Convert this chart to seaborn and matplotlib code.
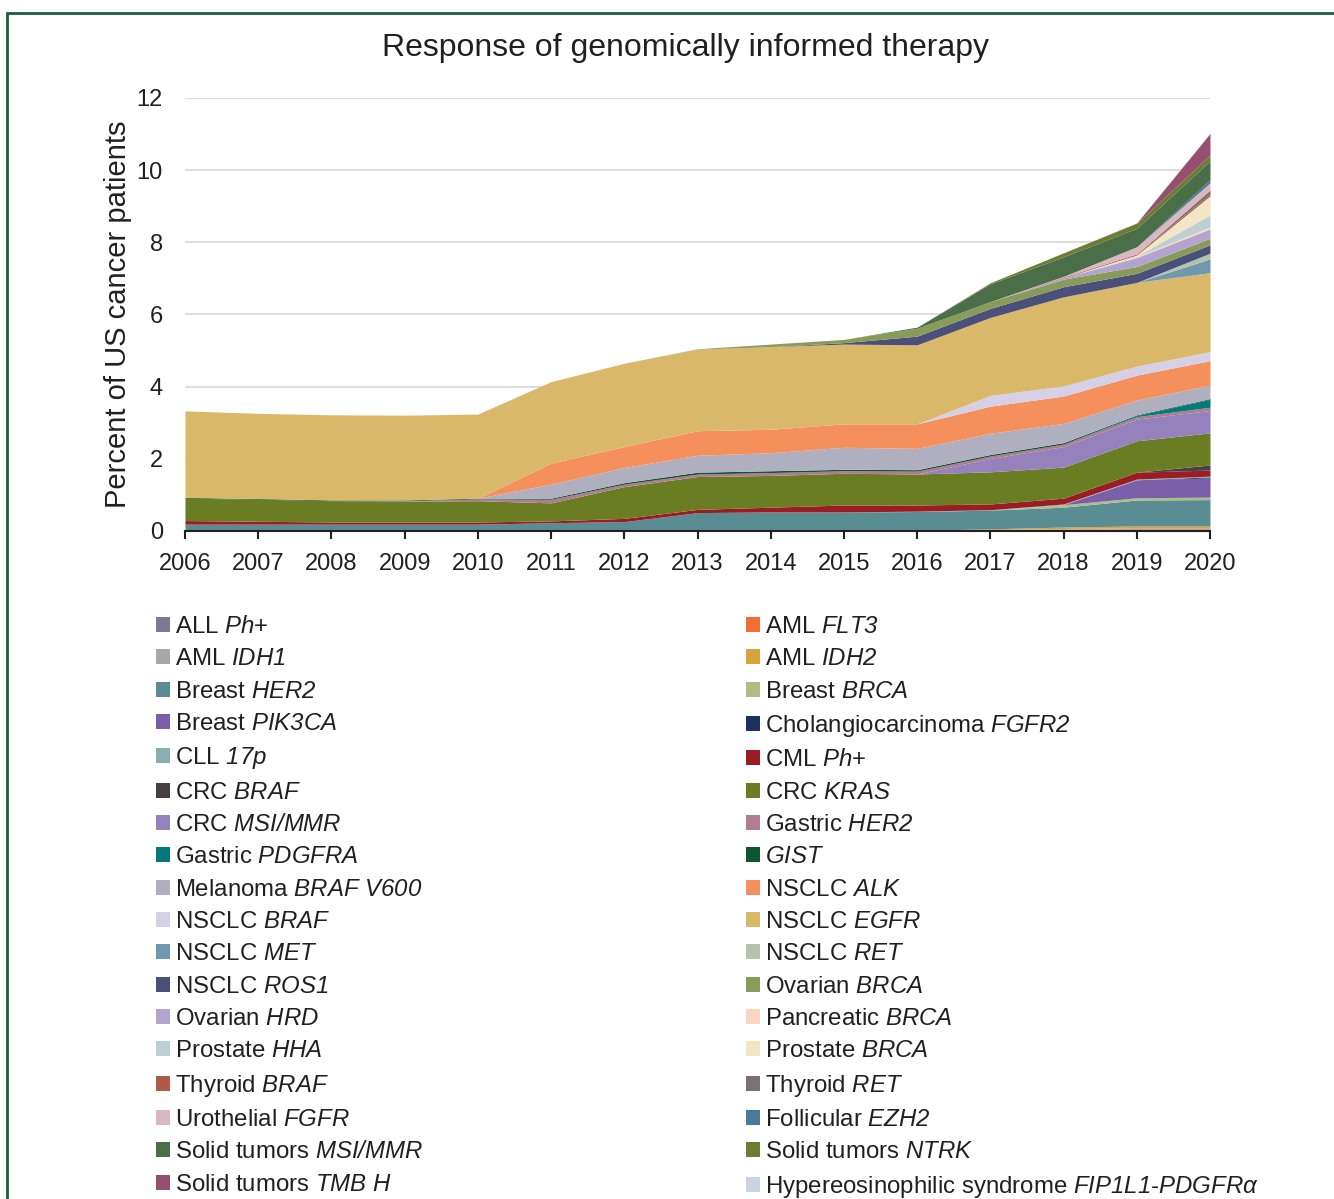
import matplotlib
matplotlib.use('Agg')
import matplotlib.pyplot as plt
import matplotlib.patches as mpatches
import seaborn as sns

years = [2006, 2007, 2008, 2009, 2010, 2011, 2012, 2013, 2014, 2015, 2016, 2017, 2018, 2019, 2020]

# percent of US cancer patients, stacked bottom -> top
all_ph        = [.02, .02, .02, .02, .02, .02, .02, .02, .02, .02, .02, .02, .02, .02, .02]
aml_flt3      = [0, 0, 0, 0, 0, 0, 0, 0, 0, 0, 0, .02, .03, .04, .04]
aml_idh1      = [0, 0, 0, 0, 0, 0, 0, 0, 0, 0, 0, 0, .02, .03, .03]
aml_idh2      = [0, 0, 0, 0, 0, 0, 0, 0, 0, 0, 0, .02, .04, .05, .05]
breast_her2   = [.17, .17, .17, .17, .17, .21, .24, .49, .51, .51, .52, .52, .55, .72, .73]
breast_brca   = [0, 0, 0, 0, 0, 0, 0, 0, 0, 0, 0, 0, .07, .06, .07]
breast_pik3ca = [0, 0, 0, 0, 0, 0, 0, 0, 0, 0, 0, 0, 0, .50, .53]
cholangio     = [0, 0, 0, 0, 0, 0, 0, 0, 0, 0, 0, 0, 0, 0, .03]
cll_17p       = [0, 0, 0, 0, 0, 0, 0, 0, 0, 0, .01, .01, .02, .02, .02]
cml_ph        = [.10, .08, .06, .06, .06, .05, .09, .09, .13, .19, .17, .16, .16, .19, .17]
crc_braf      = [0, 0, 0, 0, 0, 0, 0, 0, 0, 0, 0, 0, 0, 0, .14]
crc_kras      = [.62, .61, .59, .58, .59, .50, .88, .91, .88, .88, .86, .89, .86, .87, .89]
crc_msi       = [0, 0, 0, 0, 0, 0, 0, 0, 0, 0, 0, .37, .57, .60, .62]
gastric_her2  = [0, 0, 0, .01, .05, .10, .07, .07, .08, .07, .08, .07, .07, .07, .09]
gastric_pdgfra = [0, 0, 0, 0, 0, 0, 0, 0, 0, 0, 0, 0, 0, .03, .22]
gist          = [.02, .02, .02, .02, .02, .03, .04, .05, .05, .04, .04, .04, .04, .02, .02]
melanoma      = [0, 0, 0, 0, 0, .39, .42, .47, .50, .61, .59, .59, .53, .41, .37]
nsclc_alk     = [0, 0, 0, 0, 0, .58, .58, .68, .65, .65, .68, .75, .76, .69, .68]
nsclc_braf    = [0, 0, 0, 0, 0, 0, 0, 0, 0, 0, 0, .30, .28, .25, .25]
nsclc_egfr    = [2.40, 2.36, 2.36, 2.35, 2.33, 2.26, 2.31, 2.26, 2.29, 2.21, 2.19, 2.16, 2.47, 2.32, 2.19]
nsclc_met     = [0, 0, 0, 0, 0, 0, 0, 0, 0, 0, 0, 0, 0, 0, .38]
nsclc_ret     = [0, 0, 0, 0, 0, 0, 0, 0, 0, 0, 0, 0, 0, 0, .16]
nsclc_ros1    = [0, 0, 0, 0, 0, 0, 0, 0, 0, .04, .24, .25, .28, .25, .23]
ovarian_brca  = [0, 0, 0, 0, 0, 0, 0, .01, .07, .09, .22, .19, .21, .19, .18]
ovarian_hrd   = [0, 0, 0, 0, 0, 0, 0, 0, 0, 0, 0, 0, .04, .25, .26]
pancreatic_brca = [0, 0, 0, 0, 0, 0, 0, 0, 0, 0, 0, 0, 0, .02, .06]
prostate_hha  = [0, 0, 0, 0, 0, 0, 0, 0, 0, 0, 0, 0, 0, .02, .33]
prostate_brca = [0, 0, 0, 0, 0, 0, 0, 0, 0, 0, 0, 0, 0, .03, .53]
thyroid_braf  = [0, 0, 0, 0, 0, 0, 0, 0, 0, 0, 0, 0, .02, .03, .05]
thyroid_ret   = [0, 0, 0, 0, 0, 0, 0, 0, 0, 0, 0, 0, 0, 0, .11]
urothelial    = [0, 0, 0, 0, 0, 0, 0, 0, 0, 0, 0, 0, .02, .20, .20]
follicular    = [0, 0, 0, 0, 0, 0, 0, 0, 0, 0, 0, 0, 0, 0, .09]
solid_msi     = [0, 0, 0, 0, 0, 0, 0, 0, 0, 0, .03, .49, .54, .51, .52]
solid_ntrk    = [0, 0, 0, 0, 0, 0, 0, 0, 0, 0, 0, .03, .11, .14, .16]
solid_tmb     = [0, 0, 0, 0, 0, 0, 0, 0, 0, 0, 0, 0, 0, .01, .60]
hes           = [0, 0, 0, 0, 0, 0, 0, 0, 0, 0, 0, 0, 0, 0, .01]

series = [all_ph, aml_flt3, aml_idh1, aml_idh2, breast_her2, breast_brca, breast_pik3ca,
          cholangio, cll_17p, cml_ph, crc_braf, crc_kras, crc_msi, gastric_her2,
          gastric_pdgfra, gist, melanoma, nsclc_alk, nsclc_braf, nsclc_egfr, nsclc_met,
          nsclc_ret, nsclc_ros1, ovarian_brca, ovarian_hrd, pancreatic_brca, prostate_hha,
          prostate_brca, thyroid_braf, thyroid_ret, urothelial, follicular, solid_msi,
          solid_ntrk, solid_tmb, hes]

# gene names in math mode -> italic font (see mathtext settings below)
labels = [r'ALL $Ph$+', r'AML $FLT3$', r'AML $IDH1$', r'AML $IDH2$',
          r'Breast $HER2$', r'Breast $BRCA$', r'Breast $PIK3CA$',
          r'Cholangiocarcinoma $FGFR2$', r'CLL $17p$', r'CML $Ph$+',
          r'CRC $BRAF$', r'CRC $KRAS$', r'CRC $MSI/MMR$',
          r'Gastric $HER2$', r'Gastric $PDGFRA$', r'$GIST$',
          r'Melanoma $BRAF\ V600$', r'NSCLC $ALK$', r'NSCLC $BRAF$',
          r'NSCLC $EGFR$', r'NSCLC $MET$', r'NSCLC $RET$',
          r'NSCLC $ROS1$', r'Ovarian $BRCA$', r'Ovarian $HRD$',
          r'Pancreatic $BRCA$', r'Prostate $HHA$', r'Prostate $BRCA$',
          r'Thyroid $BRAF$', r'Thyroid $RET$', r'Urothelial $FGFR$',
          r'Follicular $EZH2$', r'Solid tumors $MSI/MMR$',
          r'Solid tumors $NTRK$', r'Solid tumors $TMB\ H$',
          r'Hypereosinophilic syndrome $FIP1L1$-$PDGFR\alpha$']

colors = ['#7a7a96', '#f26d32', '#aaa6a6', '#d6a43c', '#5a8c94', '#b0bc86', '#7a5fa8',
          '#1b3160', '#8aaeb0', '#9b1c22', '#474040', '#6b7d23', '#9581bb', '#b07c92',
          '#037a7a', '#0f5530', '#b0afc0', '#f58f5c', '#d6d0e6', '#dab86a', '#7097ae',
          '#b5c2ae', '#4a5079', '#8a9a58', '#b3a3cf', '#fbd5c0', '#bcd0d4', '#f3e6c6',
          '#b05a48', '#7a7272', '#d9b8c2', '#4a7a9a', '#4a6e48', '#6b7d35', '#955070',
          '#ccd4e0']

sns.set_theme(style='white')
plt.rcParams['font.family'] = ['Liberation Sans', 'DejaVu Sans']
plt.rcParams['mathtext.fontset'] = 'custom'
plt.rcParams['mathtext.rm'] = 'Liberation Sans:italic'
plt.rcParams['mathtext.it'] = 'Liberation Sans:italic'
plt.rcParams['mathtext.bf'] = 'Liberation Sans:bold'
txt = '#231f20'

W, H = 1334, 1199
fig = plt.figure(figsize=(W / 100, H / 100), dpi=100)
ax = fig.add_axes([185 / W, 1 - 531 / H, 1025 / W, 433 / H])

ax.stackplot(years, *series, colors=colors, labels=labels, linewidth=0)

ax.set_xlim(2006, 2020)
ax.set_ylim(0, 12)
ax.set_xticks(years)
ax.set_yticks([0, 2, 4, 6, 8, 10, 12])
ax.yaxis.grid(True, color='#dedede', linewidth=1.5)
ax.set_axisbelow(True)
for s in ['top', 'right', 'left']:
    ax.spines[s].set_visible(False)
ax.spines['bottom'].set_color(txt)
ax.spines['bottom'].set_linewidth(1.5)
ax.tick_params(axis='x', bottom=True, length=6, width=1.5, color=txt, pad=9.5,
               labelsize=17, labelcolor=txt)
ax.tick_params(axis='y', left=False, length=0, pad=16, labelsize=17, labelcolor=txt)
ax.set_ylabel('Percent of US cancer patients', fontsize=21, color=txt)
ax.yaxis.set_label_coords(-0.052, 0.5)

fig.text(686 / W, 1 - 48 / H, 'Response of genomically informed therapy',
         ha='center', va='center', fontsize=23, color=txt)

# legend in two columns, filled row by row
handles = [mpatches.Patch(facecolor=c, edgecolor='none') for c in colors]
leg_kw = dict(loc='upper left', frameon=False, fontsize=17.3, handlelength=0.58,
              handleheight=0.58, handletextpad=0.2, labelspacing=0.43,
              borderpad=0, borderaxespad=0, labelcolor=txt)
fig.legend(handles[0::2], labels[0::2], bbox_to_anchor=(156 / W, 1 - 616 / H), **leg_kw)
fig.legend(handles[1::2], labels[1::2], bbox_to_anchor=(746 / W, 1 - 616 / H), **leg_kw)

# green frame around the panel
fig.patches.append(mpatches.Rectangle((7 / W, -0.1), 1.2, 1.1 - 13 / H, fill=False,
                                      edgecolor='#1d5e3a', linewidth=2,
                                      transform=fig.transFigure, figure=fig))

fig.savefig('out.png', dpi=100)
